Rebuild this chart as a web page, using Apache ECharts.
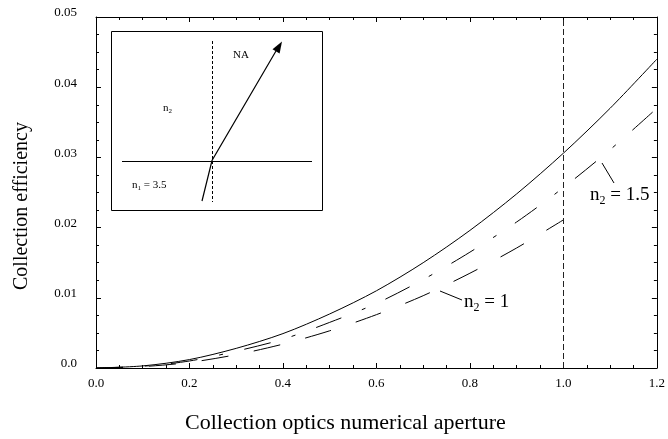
<!DOCTYPE html>
<html>
<head>
<meta charset="utf-8">
<script src="https://cdn.jsdelivr.net/npm/echarts@6/dist/echarts.min.js"></script>
<style>
  html, body { margin: 0; padding: 0; background: #fff; }
  #main { width: 668px; height: 439px; }
</style>
</head>
<body>
<div id="main"></div>
<script>
// numerical aperture samples
var naValues = [0, 0.1, 0.2, 0.3, 0.4, 0.5, 0.6, 0.7, 0.8, 0.9, 1.0, 1.1, 1.2];
// collection efficiency
var effSolid = [0, 0.0003, 0.0012, 0.0028, 0.0049, 0.0077, 0.0110, 0.0150, 0.0196, 0.0248, 0.0306, 0.0370, 0.0440];
var effN2of15 = [0, 0.00025, 0.0010, 0.0024, 0.0041, 0.0065, 0.0092, 0.0126, 0.0165, 0.0208, 0.0257, 0.0311, 0.0370];
var naValuesN1 = [0, 0.1, 0.2, 0.3, 0.4, 0.5, 0.6, 0.7, 0.8, 0.9, 1.0];
var effN2of1 = [0, 0.0002, 0.0008, 0.0019, 0.0034, 0.0053, 0.0076, 0.0103, 0.0135, 0.0171, 0.0211];
var cutoffNA = 1.0;

var serif = 'Liberation Serif';

function pairs(xs, ys) {
  return xs.map(function (x, i) { return [x, ys[i]]; });
}

function axisBase(show) {
  return {
    type: 'value',
    axisLine: { show: true, onZero: false, lineStyle: { color: '#000', width: 1 } },
    axisTick: { show: true, inside: true, length: 5, lineStyle: { color: '#000' } },
    minorTick: { show: true, splitNumber: 4, length: 3, lineStyle: { color: '#000' } },
    splitLine: { show: false },
    axisLabel: { show: show, color: '#000', fontFamily: serif, fontSize: 13 }
  };
}

var xBottom = Object.assign(axisBase(true), { min: 0, max: 1.2, interval: 0.2, position: 'bottom' });
xBottom.axisLabel.margin = 9;
xBottom.axisLabel.formatter = function (v) { return v.toFixed(1); };
var xTop = Object.assign(axisBase(false), { min: 0, max: 1.2, interval: 0.2, position: 'top' });

var yLeft = Object.assign(axisBase(true), { min: 0, max: 0.05, interval: 0.01, position: 'left' });
yLeft.axisLabel.margin = 19;
yLeft.axisLabel.verticalAlign = 'bottom';
yLeft.axisLabel.lineHeight = 8;
yLeft.axisLabel.formatter = function (v) { return v === 0 ? '0.0' : v.toFixed(2); };
var yRight = Object.assign(axisBase(false), { min: 0, max: 0.05, interval: 0.01, position: 'right' });

var subRich = {
  a: { fontFamily: serif, fontSize: 19, color: '#000', verticalAlign: 'top' },
  s: { fontFamily: serif, fontSize: 12, color: '#000', verticalAlign: 'top', padding: [9, 0, 0, 0] }
};
var smallRich = {
  a: { fontFamily: serif, fontSize: 11, color: '#000', verticalAlign: 'top' },
  s: { fontFamily: serif, fontSize: 7, color: '#000', verticalAlign: 'top', padding: [5, 0, 0, 0] }
};

var thin = { stroke: '#000', lineWidth: 1 };

var myChart = echarts.init(document.getElementById('main'));
myChart.setOption({
  animation: false,
  backgroundColor: '#fff',
  grid: { left: 96, right: 4, top: 17, bottom: 71 },
  xAxis: [xBottom, xTop],
  yAxis: [yLeft, yRight],
  series: [
    {
      type: 'line', data: pairs(naValues, effSolid), smooth: 0.3, showSymbol: false,
      lineStyle: { color: '#000', width: 1 },
      markLine: {
        silent: true, symbol: 'none', label: { show: false },
        lineStyle: { color: '#222', width: 1, type: [6, 3] },
        data: [{ xAxis: cutoffNA }]
      }
    },
    {
      type: 'line', data: pairs(naValues, effN2of15), smooth: 0.3, showSymbol: false,
      lineStyle: { color: '#000', width: 1, type: [27, 22, 4, 22] }
    },
    {
      type: 'line', data: pairs(naValuesN1, effN2of1), smooth: 0.3, showSymbol: false,
      lineStyle: { color: '#000', width: 1, type: [27, 26] }
    }
  ],
  graphic: [
    // axis titles
    { type: 'text', left: 185, top: 412, style: { text: 'Collection optics numerical aperture', fontFamily: serif, fontSize: 22, fill: '#000' } },
    { type: 'text', x: 12, y: 290, rotation: Math.PI / 2, style: { text: 'Collection efficiency', fontFamily: serif, fontSize: 20, fill: '#000' } },
    // curve labels
    { type: 'line', shape: { x1: 602, y1: 163, x2: 614, y2: 183 }, style: thin },
    { type: 'text', left: 590, top: 186, style: { text: '{a|n}{s|2}{a| = 1.5}', rich: subRich } },
    { type: 'line', shape: { x1: 440, y1: 291, x2: 462, y2: 300 }, style: thin },
    { type: 'text', left: 464, top: 293, style: { text: '{a|n}{s|2}{a| = 1}', rich: subRich } },
    // inset diagram
    { type: 'rect', shape: { x: 111.5, y: 31.5, width: 211, height: 179 }, style: { fill: '#fff', stroke: '#000', lineWidth: 1 } },
    { type: 'line', shape: { x1: 122, y1: 161.5, x2: 312, y2: 161.5 }, style: thin },
    { type: 'line', shape: { x1: 212.5, y1: 41, x2: 212.5, y2: 202 }, style: { stroke: '#000', lineWidth: 1, lineDash: [3, 2] } },
    { type: 'polyline', shape: { points: [[202, 201], [212, 160.5], [276, 51]] }, style: { stroke: '#000', lineWidth: 1.2, fill: null } },
    { type: 'polygon', shape: { points: [[282, 41.5], [279.6, 53.5], [272.5, 49.2]] }, style: { fill: '#000' } },
    { type: 'text', left: 233, top: 50, style: { text: 'NA', fontFamily: serif, fontSize: 11, fill: '#000' } },
    { type: 'text', left: 163, top: 103, style: { text: '{a|n}{s|2}', rich: smallRich } },
    { type: 'text', left: 132, top: 180, style: { text: '{a|n}{s|1}{a| = 3.5}', rich: smallRich } }
  ]
});
</script>
</body>
</html>
